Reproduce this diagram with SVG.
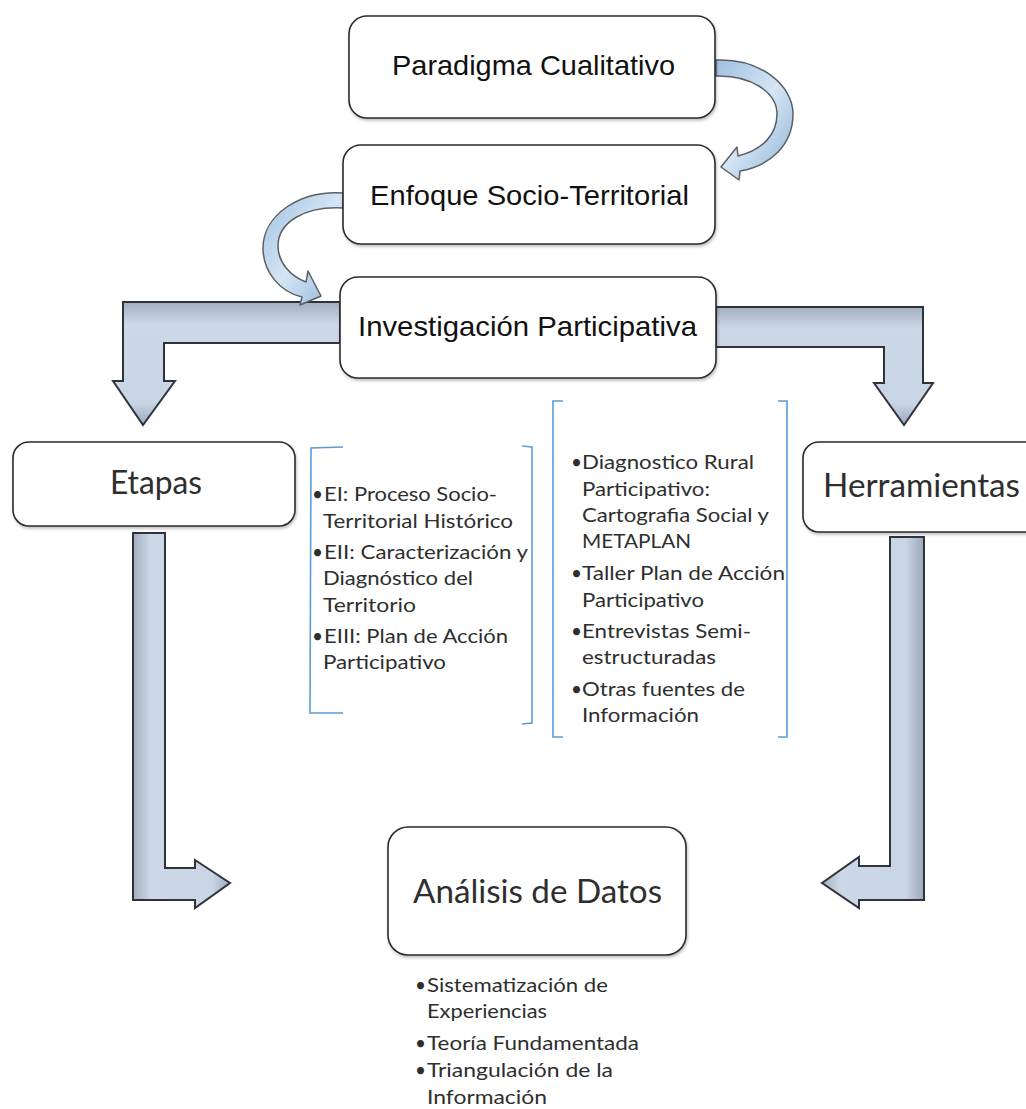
<svg xmlns="http://www.w3.org/2000/svg" width="1026" height="1109" viewBox="0 0 1026 1109">
<defs>
<linearGradient id="gBentH" x1="0" y1="0" x2="0" y2="1">
<stop offset="0" stop-color="#a3aec0"/><stop offset="0.18" stop-color="#ccd7e7"/><stop offset="0.82" stop-color="#c9d4e5"/><stop offset="1" stop-color="#9ca8ba"/>
</linearGradient>
<linearGradient id="gBentV" x1="0" y1="0" x2="1" y2="0">
<stop offset="0" stop-color="#a3aec0"/><stop offset="0.18" stop-color="#ccd7e7"/><stop offset="0.82" stop-color="#c9d4e5"/><stop offset="1" stop-color="#9ca8ba"/>
</linearGradient>
<linearGradient id="gCurve" x1="0" y1="0" x2="1" y2="1">
<stop offset="0" stop-color="#9fc0e0"/><stop offset="0.5" stop-color="#d4e5f4"/><stop offset="1" stop-color="#8fb3d8"/>
</linearGradient>
<filter id="sh" x="-10%" y="-10%" width="120%" height="130%">
<feDropShadow dx="1" dy="2" stdDeviation="1.5" flood-color="#000" flood-opacity="0.25"/>
</filter>
</defs>
<style>
.box{fill:#fff;stroke:#2a2a2a;stroke-width:1.6;filter:url(#sh)}
.arial{font-family:"Liberation Sans",Arial,sans-serif;font-size:28px;fill:#111}
.cal{font-family:Lato,"Noto Sans",sans-serif;fill:#2e2e2e}
.big{font-size:32px}
.sm{font-size:19px}
.bent{stroke:#2f343c;stroke-width:2;stroke-linejoin:miter}
.curve{fill:url(#gCurve);stroke:#5a5f66;stroke-width:1.5;stroke-linejoin:round}
.br{fill:none;stroke:#5b9bd5;stroke-width:1.6}
</style>

<g id="connectors">
<path class="bent" fill="url(#gBentH)" d="M340,302 L123,302 L123,381 L113,381 L143,425 L175,381 L164,381 L164,343 L340,343 Z"/>
<path class="bent" fill="url(#gBentH)" d="M716,307 L923,307 L923,383 L933,383 L904,425 L874,383 L884,383 L884,347 L716,347 Z"/>
<path class="bent" fill="url(#gBentV)" d="M133,533 L165,533 L165,868 L195,868 L195,860 L230,883 L195,908 L195,900 L133,900 Z"/>
<path class="bent" fill="url(#gBentV)" d="M890,537 L924,537 L924,900 L859,900 L859,908 L822,883 L859,857 L859,866 L890,866 Z"/>
<path class="curve" d="M716,60 C760,58 793,85 793,114 C793,145 770,166 740,171 L739,180 L721,167 L737,147 L738,156 C762,150 777,135 777,114 C777,93 752,75 716,76 Z"/>
<path class="curve" d="M343,193 C300,190 263,215 263,248 C263,272 280,292 302,297 L300,305 L321,296 L308,271 L306,282 C290,276 278,262 278,246 C278,222 305,206 343,208 Z"/>
</g>

<g id="node-paradigma">
<rect class="box" x="349" y="16" width="366" height="102" rx="18"/>
<text class="arial" x="392" y="75" textLength="283" lengthAdjust="spacingAndGlyphs">Paradigma Cualitativo</text>
</g>
<g id="node-enfoque">
<rect class="box" x="343" y="145" width="372" height="99" rx="18"/>
<text class="arial" x="370" y="205" textLength="319" lengthAdjust="spacingAndGlyphs">Enfoque Socio-Territorial</text>
</g>
<g id="node-investigacion">
<rect class="box" x="340" y="277" width="376" height="101" rx="18"/>
<text class="arial" x="358" y="336" textLength="339" lengthAdjust="spacingAndGlyphs">Investigación Participativa</text>
</g>
<g id="node-etapas">
<rect class="box" x="13" y="442" width="282" height="84" rx="16"/>
<text class="cal big" x="110" y="494" textLength="92" lengthAdjust="spacingAndGlyphs">Etapas</text>
</g>
<g id="node-herramientas">
<rect class="box" x="803" y="442" width="240" height="90" rx="16"/>
<text class="cal big" x="823" y="497" textLength="197" lengthAdjust="spacingAndGlyphs">Herramientas</text>
</g>
<g id="node-analisis">
<rect class="box" x="388" y="827" width="298" height="128" rx="20"/>
<text class="cal big" x="413" y="903" textLength="249" lengthAdjust="spacingAndGlyphs">Análisis de Datos</text>
</g>

<g id="list-etapas">
<path class="br" d="M343,447 L311,448 L310,713 L343,713"/>
<path class="br" d="M522,446 L532,447 L532,723 L522,724"/>
<g class="cal sm">
<text x="312" y="501">•</text>
<text x="324" y="501" textLength="173" lengthAdjust="spacingAndGlyphs">EI: Proceso Socio-</text>
<text x="323" y="528" textLength="190" lengthAdjust="spacingAndGlyphs">Territorial Histórico</text>
<text x="312" y="559">•</text>
<text x="324" y="559" textLength="204" lengthAdjust="spacingAndGlyphs">EII: Caracterización y</text>
<text x="323" y="585" textLength="150" lengthAdjust="spacingAndGlyphs">Diagnóstico del</text>
<text x="323" y="612" textLength="93" lengthAdjust="spacingAndGlyphs">Territorio</text>
<text x="312" y="643">•</text>
<text x="324" y="643" textLength="184" lengthAdjust="spacingAndGlyphs">EIII: Plan de Acción</text>
<text x="323" y="669" textLength="123" lengthAdjust="spacingAndGlyphs">Participativo</text>
</g>
</g>

<g id="list-herramientas">
<path class="br" d="M563,401 L553,401 L553,737 L563,737"/>
<path class="br" d="M778,401 L787,401 L787,737 L778,737"/>
<g class="cal sm">
<text x="571" y="469">•</text>
<text x="582" y="469" textLength="172" lengthAdjust="spacingAndGlyphs">Diagnostico Rural</text>
<text x="582" y="496" textLength="128" lengthAdjust="spacingAndGlyphs">Participativo:</text>
<text x="582" y="522" textLength="187" lengthAdjust="spacingAndGlyphs">Cartografia Social y</text>
<text x="582" y="548" textLength="109" lengthAdjust="spacingAndGlyphs">METAPLAN</text>
<text x="571" y="580">•</text>
<text x="582" y="580" textLength="203" lengthAdjust="spacingAndGlyphs">Taller Plan de Acción</text>
<text x="582" y="607" textLength="122" lengthAdjust="spacingAndGlyphs">Participativo</text>
<text x="571" y="638">•</text>
<text x="582" y="638" textLength="169" lengthAdjust="spacingAndGlyphs">Entrevistas Semi-</text>
<text x="582" y="664" textLength="134" lengthAdjust="spacingAndGlyphs">estructuradas</text>
<text x="571" y="696">•</text>
<text x="582" y="696" textLength="163" lengthAdjust="spacingAndGlyphs">Otras fuentes de</text>
<text x="582" y="722" textLength="117" lengthAdjust="spacingAndGlyphs">Información</text>
</g>
</g>

<g id="list-analisis" class="cal sm">
<text x="415" y="992">•</text>
<text x="427" y="992" textLength="181" lengthAdjust="spacingAndGlyphs">Sistematización de</text>
<text x="427" y="1018" textLength="120" lengthAdjust="spacingAndGlyphs">Experiencias</text>
<text x="415" y="1050">•</text>
<text x="427" y="1050" textLength="212" lengthAdjust="spacingAndGlyphs">Teoría Fundamentada</text>
<text x="415" y="1077">•</text>
<text x="427" y="1077" textLength="186" lengthAdjust="spacingAndGlyphs">Triangulación de la</text>
<text x="427" y="1104" textLength="120" lengthAdjust="spacingAndGlyphs">Información</text>
</g>
</svg>
